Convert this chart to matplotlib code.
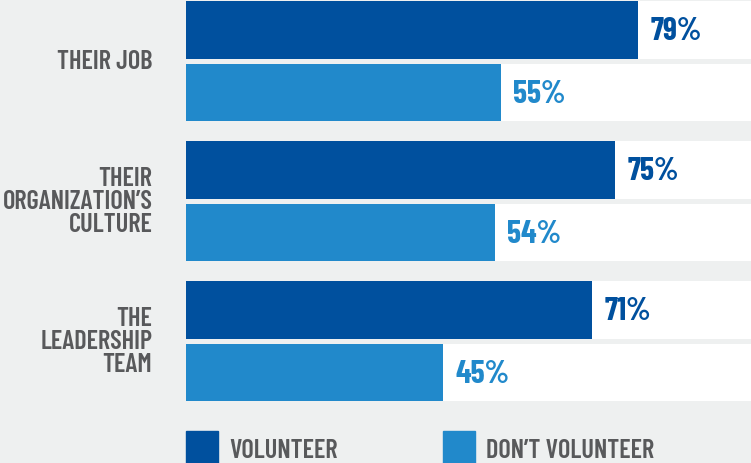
import matplotlib.pyplot as plt
from matplotlib.patches import Rectangle

categories = ["THEIR JOB", "THEIR\nORGANIZATION\u2019S\nCULTURE", "THE\nLEADERSHIP\nTEAM"]
volunteer = [79, 75, 71]
dont_volunteer = [55, 54, 45]
legend_labels = ["VOLUNTEER", "DON\u2019T VOLUNTEER"]

dark = "#00509E"
light = "#2189CB"
grey_txt = "#58595B"
bg = "#EEF0F0"

fam = ["Barlow Condensed", "DejaVu Sans"]

W, H = 751, 464
fig = plt.figure(figsize=(W / 100, H / 100), dpi=100, facecolor=bg)

# axes spans from x=186px to right edge, top to y=410px
ax = fig.add_axes([186 / W, 54 / H, 1 - 186 / W, 410 / H])
ax.set_facecolor(bg)
ax.set_xlim(0, (W - 186) / 5.72)
ax.set_ylim(410, 0)
ax.axis("off")

pitch = 140
for i, cat in enumerate(categories):
    y1 = 31 + pitch * i
    y2 = 93.5 + pitch * i
    # white tracks
    ax.barh([y1, y2], [100, 100], height=[58, 57], color="white", zorder=1)
    ax.barh(y1, volunteer[i], height=58, color=dark, zorder=2)
    ax.barh(y2, dont_volunteer[i], height=57, color=light, zorder=2)
    ax.text(volunteer[i] + 2.2, y1 + 1, f"{volunteer[i]}%", color=dark,
            fontsize=23, fontweight="bold", family=fam, va="center", ha="left")
    ax.text(dont_volunteer[i] + 2.2, y2 + 1, f"{dont_volunteer[i]}%", color=light,
            fontsize=23, fontweight="bold", family=fam, va="center", ha="left")
    ax.text(-5.9, (y1 + y2) / 2, cat, color=grey_txt, fontsize=19,
            fontweight="semibold", family=fam, va="center", ha="right",
            multialignment="right", linespacing=0.95, clip_on=False)

# legend
for x0, lab, col in [(186, legend_labels[0], dark), (443, legend_labels[1], light)]:
    fig.patches.append(Rectangle((x0 / W, 0), 32 / W, 32 / H, color=col,
                                 transform=fig.transFigure, figure=fig))
    fig.text((x0 + 43) / W, 13 / H, lab, color=grey_txt, fontsize=19,
             fontweight="semibold", family=fam, va="center", ha="left")

fig.savefig("out.png", dpi=100, facecolor=bg)
